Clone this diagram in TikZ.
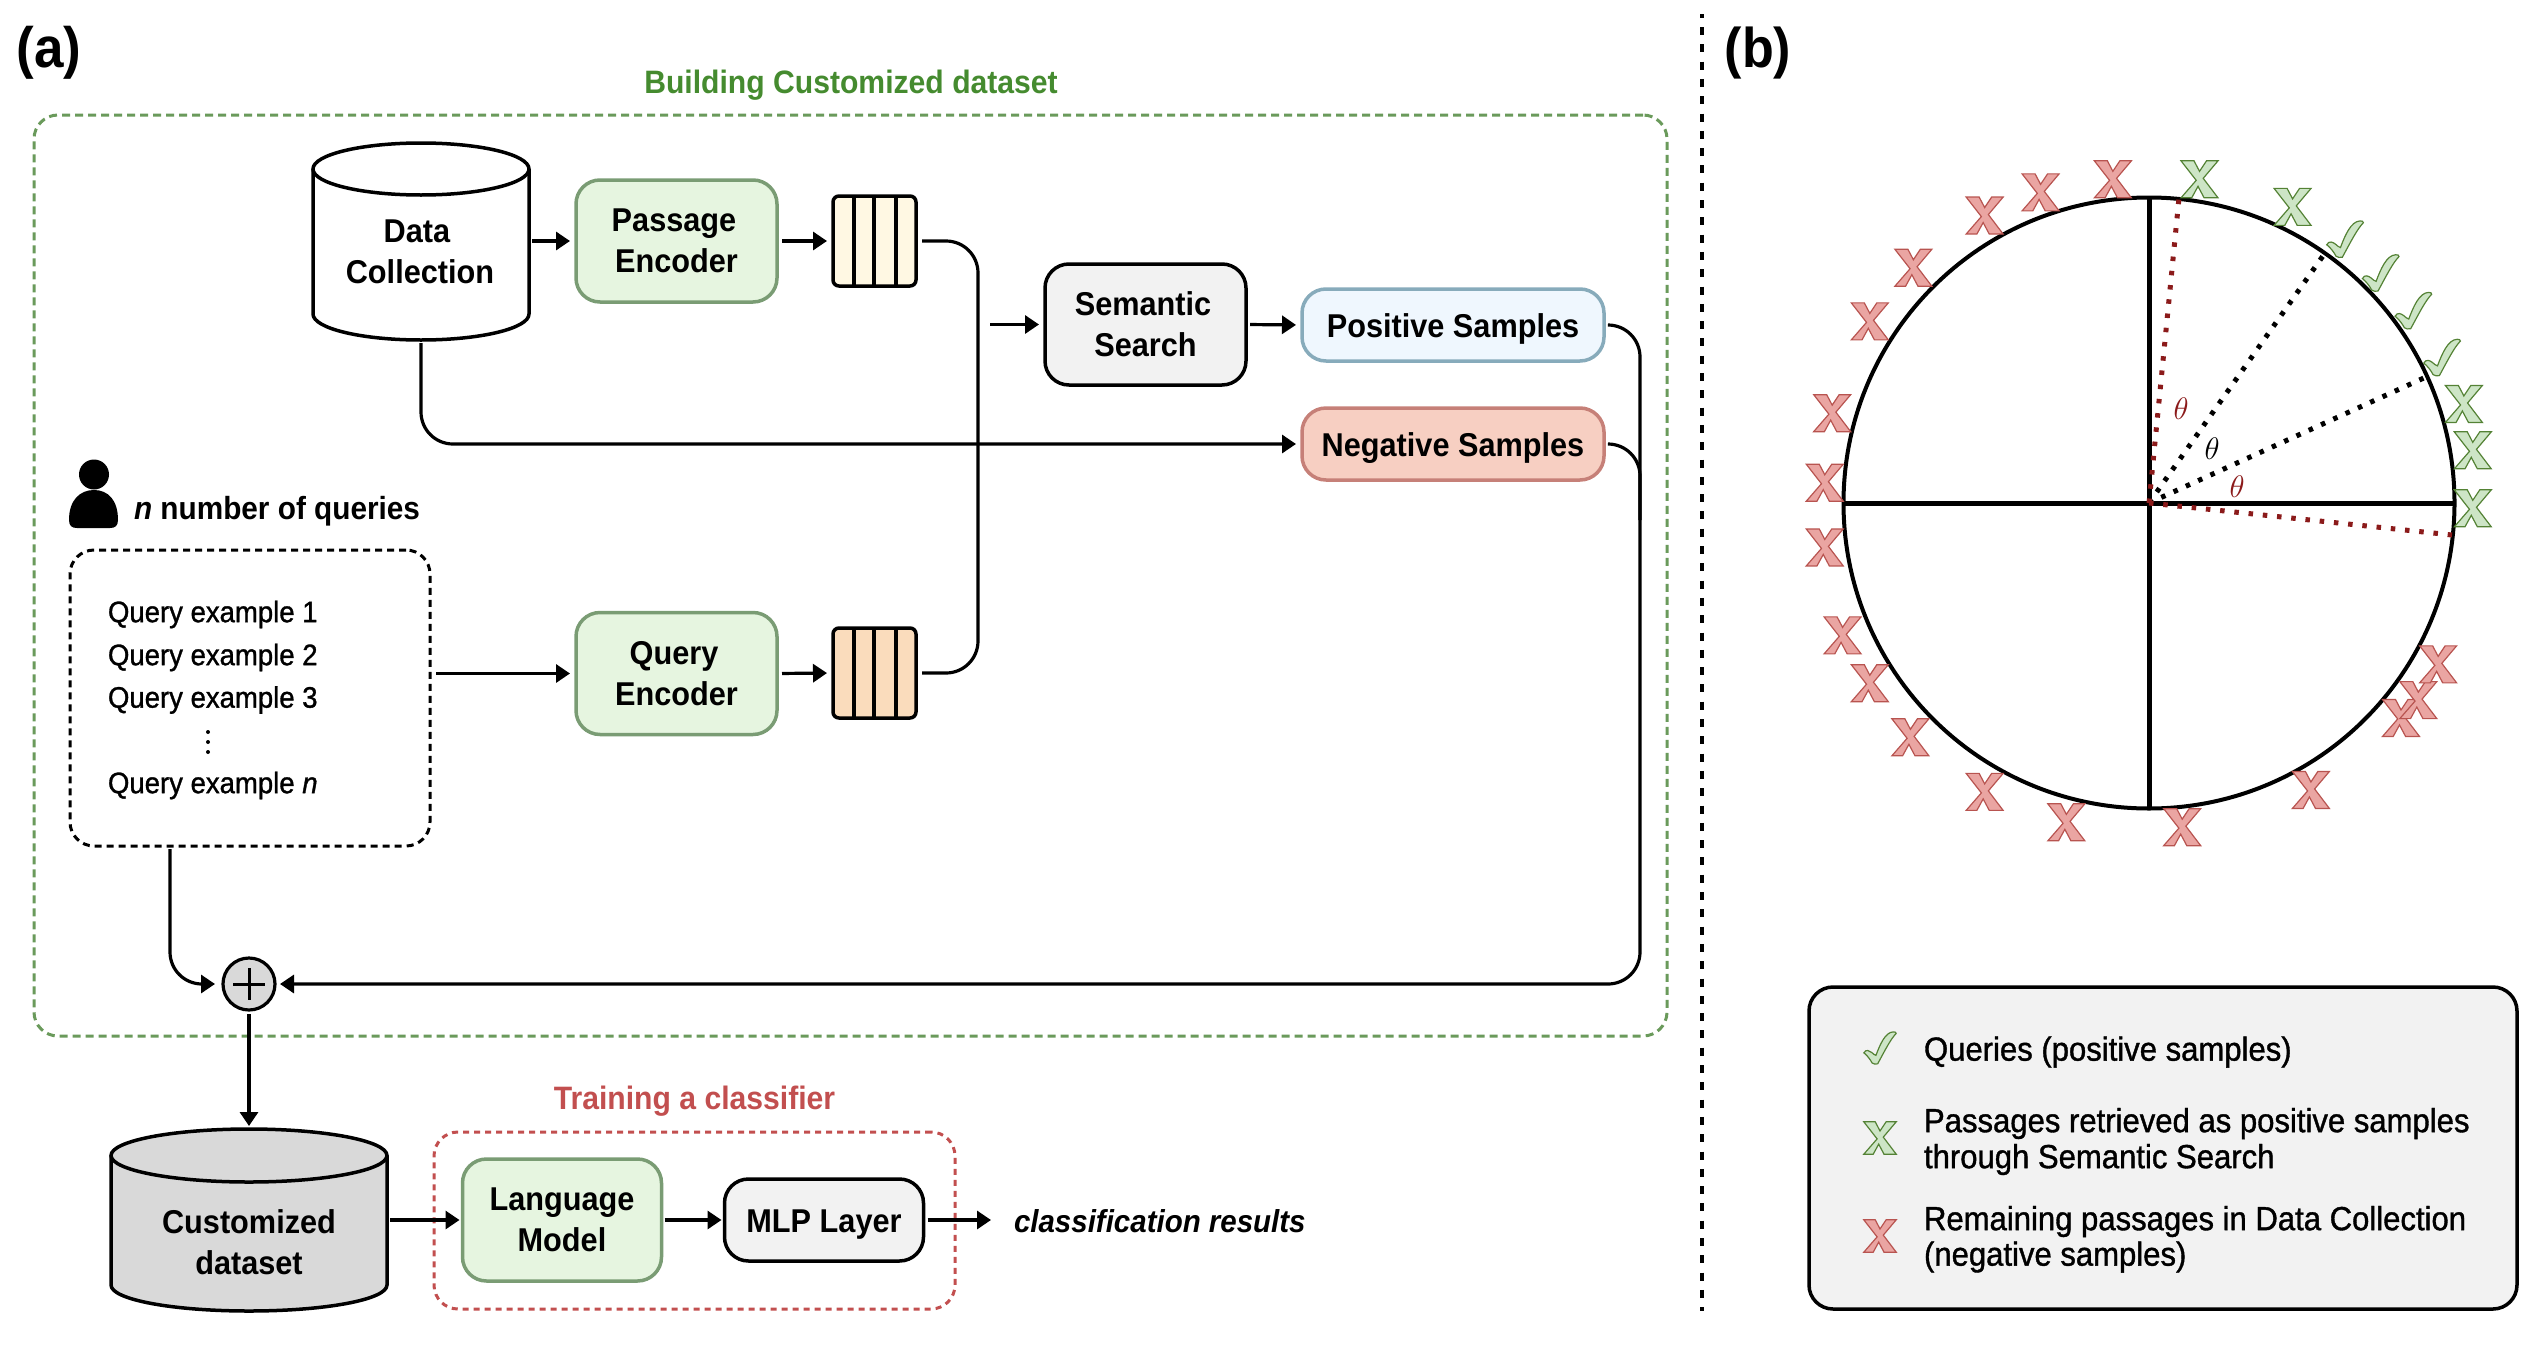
\documentclass[tikz,border=0pt]{standalone}
\usepackage{graphicx}
\usepackage{fontspec}
\setmainfont[FakeStretch=0.93]{Liberation Sans}
\newfontfamily\medf[FakeStretch=0.93,FakeBold=1.1]{Liberation Sans}
\usetikzlibrary{arrows.meta}
\definecolor{gborder}{HTML}{7A9C74}
\definecolor{gfill}{HTML}{E6F5E0}
\definecolor{gdash}{HTML}{6A9A5B}
\definecolor{gtitle}{HTML}{458B2F}
\definecolor{rdash}{HTML}{C24F4F}
\definecolor{greyf}{HTML}{F2F2F2}
\definecolor{cylf}{HTML}{D9D9D9}
\definecolor{posf}{HTML}{EFF7FE}
\definecolor{posb}{HTML}{87ABBB}
\definecolor{negf}{HTML}{F7CFC2}
\definecolor{negb}{HTML}{C68078}
\definecolor{vecp}{HTML}{FFF8E3}
\definecolor{vecq}{HTML}{FADCBC}
\definecolor{darkred}{HTML}{8B1A1A}
\definecolor{xgf}{HTML}{CDE5C6}
\definecolor{xgb}{HTML}{548235}
\definecolor{xrf}{HTML}{EAA5A2}
\definecolor{xrb}{HTML}{B85450}
\newcommand{\lb}{\fontsize{33}{41}\selectfont\bfseries}
\newcommand{\md}{\fontsize{33.4}{36}\medf}
\newcommand{\thetamark}{\fontsize{24.88}{30}\selectfont\scalebox{1.25}{$\theta$}}
\tikzset{
  x=1pt,y=-1pt,
  every node/.style={inner sep=0pt,outer sep=0pt,align=center,font=\lb},
  boxn/.style={draw,line width=3pt,rounded corners=24pt},
  gbox/.style={boxn,draw=gborder,fill=gfill,line width=3.5pt},
  kbox/.style={boxn,draw=black,fill=greyf,line width=3.5pt},
  pbox/.style={boxn,draw=posb,fill=posf,line width=3.5pt},
  nbox/.style={boxn,draw=negb,fill=negf,line width=3.5pt},
  oneline/.style={text height=31pt,text depth=7pt},
  vecb/.style={draw=black,line width=3.5pt,rounded corners=6pt,minimum width=83pt,minimum height=90pt},
  conn/.style={draw=black,line width=3.2pt,-{Triangle[length=14pt,width=18pt]}},
  plain/.style={draw=black,line width=3.2pt},
  cylb/.style={draw=black,line width=3.5pt},
  ghost/.style={draw=none,fill=none},
  xg/.pic={\draw[fill=xgf,draw=xgb,line width=1.2pt,line join=miter] \xpath;},
  xr/.pic={\draw[fill=xrf,draw=xrb,line width=1.2pt,line join=miter] \xpath;},
  ck/.pic={\draw[fill=xgf,draw=xgb,line width=1.2pt] \ckpath;},
}
\def\xpath{(-18.5,-18.5) -- (-5.5,-18.5) -- (0,-8) -- (7,-18.5) -- (18.5,-18.5) -- (3.7,-1) -- (18.5,18.5) -- (4.6,18.5) -- (-1.5,7) -- (-7.8,18.5) -- (-18.5,18.5) -- (-3.3,1) -- cycle}
\def\ckpath{(-18.3,5.5) .. controls (-16,1) and (-12,3) .. (-9.5,5) .. controls (-8,6.5) and (-6,8) .. (-4.6,8.3) .. controls (0,-4) and (6,-18) .. (15,-18.3) .. controls (17,-18.3) and (18.5,-18) .. (18.3,-16.5) .. controls (12,-10) and (6,2) .. (-2.7,18) .. controls (-5,18.5) and (-7.5,18.3) .. (-9,17) .. controls (-11,13) and (-15,8) .. (-18.3,5.5) -- cycle}
\begin{document}
\begin{tikzpicture}
\useasboundingbox (0,0) rectangle (2536,1352);
% panel labels
\node[font=\fontsize{57}{60}\selectfont\bfseries] (la) at (49,53) {(a)};
\node[font=\fontsize{56}{60}\selectfont\bfseries] (lb) at (1758,53) {(b)};
\draw[black,line width=4.5pt,dash pattern=on 8pt off 9.3pt,dash phase=4.3pt] (1702,14) -- (1702,1311);
% group frames
\node[draw=gdash,line width=3pt,dash pattern=on 8pt off 5pt,rounded corners=24pt,minimum width=1633pt,minimum height=921pt] (frameg) at (850.5,575.5) {};
\node[text=gtitle,font=\fontsize{32.4}{40}\selectfont\bfseries] (titleg) at (851,85) {Building Customized dataset};
\node[draw=rdash,line width=3pt,dash pattern=on 6pt off 5pt,rounded corners=24pt,minimum width=521pt,minimum height=177pt] (framer) at (694.5,1220.5) {};
\node[text=rdash,font=\fontsize{32.4}{40}\selectfont\bfseries] (titler) at (694.5,1101) {Training a classifier};
% data collection
\draw[cylb,fill=white] (313,169) -- (313,314) .. controls (313,328.4) and (361.4,340) .. (421,340) .. controls (480.6,340) and (529,328.4) .. (529,314) -- (529,169);
\draw[cylb,fill=white] (421,169) ellipse [x radius=108pt,y radius=26pt];
\node[minimum width=216pt,minimum height=197pt] (dc) at (421,241.5) {};
\node (dct) at (420,252) {Data\hspace*{6pt}\\Collection};
% encoders
\node[gbox,minimum width=201pt,minimum height=122pt] (pe) at (676.5,241) {Passage\hspace*{5pt}\\Encoder};
\node[gbox,minimum width=201pt,minimum height=122pt] (qe) at (676.5,673.5) {Query\hspace*{5pt}\\Encoder};
\node[vecb,fill=vecp] (vp) at (874.5,241) {};
\node[vecb,fill=vecq] (vq) at (874.5,673) {};
\foreach \xx in {854,874,896}{
  \draw[black,line width=3.5pt] (\xx,196) -- (\xx,286);
  \draw[black,line width=3.5pt] (\xx,628) -- (\xx,718);
}
\node[kbox,minimum width=201pt,minimum height=121pt] (ss) at (1145.5,324.5) {Semantic\hspace*{5pt}\\Search};
\node[pbox,oneline,minimum width=302pt,minimum height=72pt] (ps) at (1453,325) {Positive Samples};
\node[nbox,oneline,minimum width=302pt,minimum height=72pt] (ns) at (1453,444) {Negative Samples};
% queries
\fill[black] (94,474.5) circle [radius=15pt];
\fill[black] (69,520) .. controls (69,500) and (80,490) .. (94,490) .. controls (108,490) and (118,500) .. (118,520) .. controls (118,526) and (115,528) .. (110,528) -- (77,528) .. controls (72,528) and (69,526) .. (69,520) -- cycle;
\node[anchor=west] (nq) at (134,511.5) {\fontsize{32}{36}\selectfont\itshape n \upshape number of queries};
\node[draw=black,line width=3pt,dash pattern=on 7pt off 5pt,rounded corners=24pt,minimum width=360pt,minimum height=296pt] (qb) at (250,698) {};
\node[anchor=west,font=\fontsize{29.6}{34}\medf] (q1) at (108,614.5) {Query example 1};
\node[anchor=west,font=\fontsize{29.6}{34}\medf] (q2) at (108,657.5) {Query example 2};
\node[anchor=west,font=\fontsize{29.6}{34}\medf] (q3) at (108,700) {Query example 3};
\foreach \yy in {732,742,752}{\fill[black] (208,\yy) circle [radius=2pt];}
\node[anchor=west,font=\fontsize{29.6}{34}\medf] (qn) at (108,785.5) {Query example \itshape n};
% adder
\node[circle,draw=black,line width=3.2pt,fill=cylf,minimum size=52pt] (plus) at (249,984) {};
\draw[black,line width=3pt] (233,984) -- (265,984) (249,968) -- (249,1000);
% customized dataset
\draw[cylb,fill=cylf] (111,1155.5) -- (111,1285) .. controls (111,1299.6) and (172.8,1311) .. (249,1311) .. controls (325.2,1311) and (387,1299.6) .. (387,1285) -- (387,1155.5);
\draw[cylb,fill=cylf] (249,1155.5) ellipse [x radius=138pt,y radius=26.5pt];
\node[minimum width=276pt,minimum height=182pt] (cd) at (249,1220) {};
\node (cdt) at (249,1242.5) {Customized\\dataset};
% classifier
\node[gbox,minimum width=199pt,minimum height=122pt] (lm) at (562,1220) {Language\\Model};
\node[kbox,oneline,minimum width=199pt,minimum height=82pt] (mlp) at (824,1220) {MLP Layer};
\coordinate (res) at (1008,1220);
\node[anchor=west,font=\fontsize{31.7}{36}\selectfont\bfseries] (rest) at (1014,1221) {\itshape classification results};
% connectors
\draw[conn,shorten >=6pt,shorten <=3pt] (dc.east |- pe.west) -- (pe.west);
\draw[conn,shorten >=6pt,shorten <=5pt] (pe.east) -- (vp.west);
\draw[conn,shorten >=6pt,shorten <=6pt] (qb.east |- qe.west) -- (qe.west);
\draw[conn,shorten >=6pt,shorten <=5pt] (qe.east) -- (vq.west);
\coordinate (busx) at (978,324);
\draw[plain,rounded corners=32pt] ([xshift=6pt]vp.east) -- (busx |- vp.east) -- (busx |- vq.east) -- ([xshift=6pt]vq.east);
\draw[conn,shorten >=6pt] (990,324.5) -- (ss.west);
\draw[conn,shorten >=6pt,shorten <=4pt] (ss.east) -- (ps.west);
\draw[conn,rounded corners=32pt,shorten >=6pt,shorten <=3pt] (dc.south) -- (dc.south |- ns.west) -- (ns.west);
\coordinate (rbus) at (1640,324);
\draw[conn,rounded corners=32pt,shorten >=5pt] ([xshift=5pt]ps.east) -- (rbus |- ps.east) -- (1640,984) -- (plus.east);
\draw[plain,rounded corners=32pt] ([xshift=5pt]ns.east) -- (rbus |- ns.east) -- (1640,520);
\draw[conn,rounded corners=32pt,shorten >=8pt,shorten <=3pt] (qb.south -| 170,0) -- (170,984) -- (plus.west);
\draw[conn,shorten >=3pt,shorten <=4pt] (plus.south) -- (cd.north);
\draw[conn,shorten >=3pt,shorten <=3pt] (cd.east) -- (lm.west);
\draw[conn,shorten >=3pt,shorten <=3pt] (lm.east) -- (mlp.west);
\draw[conn,shorten >=17pt,shorten <=4pt] (mlp.east) -- (res);
% circle
\coordinate (o) at (2149,503);
\draw[black,line width=4pt,fill=white] (o) circle [radius=305.5pt];
\draw[black,line width=5pt] (1843.5,503) -- (2454.5,503) (2149,197.5) -- (2149,808.5);
\draw[black,line width=5pt,dash pattern=on 4.5pt off 9pt] (o) -- (2325,253);
\draw[black,line width=5pt,dash pattern=on 4.5pt off 9pt] (o) -- (2426,377);
\draw[darkred,line width=5pt,dash pattern=on 4.5pt off 9.8pt] (o) -- (2179,198);
\draw[darkred,line width=5pt,dash pattern=on 4.5pt off 9.8pt] (o) -- (2452,535);
\node[text=darkred] (t1) at (2181,409) {\thetamark};
\node[text=black] (t2) at (2212,449) {\thetamark};
\node[text=darkred] (t3) at (2237,487) {\thetamark};
% marks
\foreach \xi/\yi in {713/100,567/127,454/175,310/283,222/394,146/584,131/728,131/862,167/1044,222/1143,304/1255,454/1368,619/1431,853/1441,1113/1364,1295/1215,1330/1178,1370/1104}{
  \pgfmathsetmacro{\px}{2149+(\xi-786)/2.02}
  \pgfmathsetmacro{\py}{503+(\yi-770)/2.07}
  \pic at (\px,\py) {xr};
}
\foreach \xi/\yi in {888/100,1076/157,1422/565,1440/661,1440/781}{
  \pgfmathsetmacro{\px}{2149+(\xi-786)/2.02}
  \pgfmathsetmacro{\py}{503+(\yi-770)/2.07}
  \pic at (\px,\py) {xg};
}
\foreach \xi/\yi in {1182/224,1254/294,1320/372,1378/469}{
  \pgfmathsetmacro{\px}{2149+(\xi-786)/2.02}
  \pgfmathsetmacro{\py}{503+(\yi-770)/2.07}
  \pic at (\px,\py) {ck};
}
% legend
\node[draw=black,line width=3.5pt,fill=greyf,rounded corners=24pt,minimum width=708pt,minimum height=322pt] (leg) at (2163,1148) {};
\pic[scale=0.88] at (1880,1048) {ck};
\pic[scale=0.88] at (1880,1138) {xg};
\pic[scale=0.88] at (1880,1236) {xr};
\node[anchor=west,font=\md] (l1) at (1924,1052) {Queries (positive samples)};
\node[anchor=west,font=\md] (l2) at (1924,1123.5) {Passages retrieved as positive samples};
\node[anchor=west,font=\md] (l3) at (1924,1159.5) {through Semantic Search};
\node[anchor=west,font=\md] (l4) at (1924,1221.5) {Remaining passages in Data Collection};
\node[anchor=west,font=\md] (l5) at (1924,1257) {(negative samples)};
\end{tikzpicture}
\end{document}
